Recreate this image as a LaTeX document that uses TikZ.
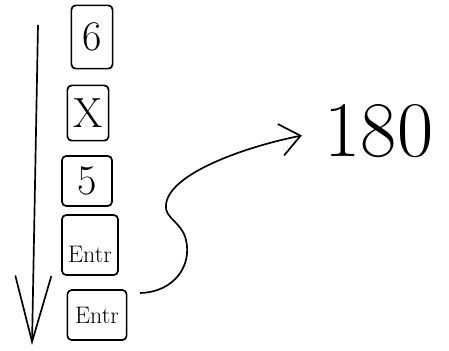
\documentclass[tikz,border=0pt]{standalone}
\usetikzlibrary{arrows.meta}
\tikzset{
  every picture/.style={line width=1.2pt},
  key/.style={draw, rounded corners=3pt, inner sep=2pt, font=\fontsize{30}{30}\selectfont},
  entr/.style={key, font=\fontsize{17}{17}\selectfont},
  arrow/.style={-{Straight Barb[length=5mm, width=8mm]}, line width=1.2pt},
  down/.style={-{Straight Barb[length=1.65cm, width=0.9cm]}, line width=1.2pt},
  big/.style={font=\fontsize{56}{56}\selectfont, inner sep=0pt},
}
\begin{document}
\begin{tikzpicture}[x=0.025cm, y=-0.025cm]
  \useasboundingbox (0,0) rectangle (449,350);
  \node[key, minimum width=1.03cm, minimum height=1.58cm] (k6) at (92,37) {6};
  \node[key, minimum width=1.03cm, minimum height=1.38cm] (kx) at (88,113) {X};
  \node[key, minimum width=1.25cm, minimum height=1.25cm] (k5) at (87,181) {5};
  \node[entr, minimum width=1.4cm, minimum height=1.5cm, text height=0.9cm] (ke1) at (90,245) {Entr};
  \node[entr, minimum width=1.48cm, minimum height=1.25cm] (ke2) at (97,315) {Entr};
  \node[big] (res) at (379,131) {180};
  % time runs downwards
  \coordinate (top) at (38,25);
  \coordinate (bot) at (32,345);
  \draw[down] (top) -- (bot);
  \coordinate (cs) at (140,293);
  \draw[arrow, shorten >=16pt] (cs) .. controls (175,292) and (192,265) .. (186,240)
    .. controls (182,222) and (164,218) .. (166,205)
    .. controls (168,175) and (240,148) .. (res.west);
\end{tikzpicture}
\end{document}
